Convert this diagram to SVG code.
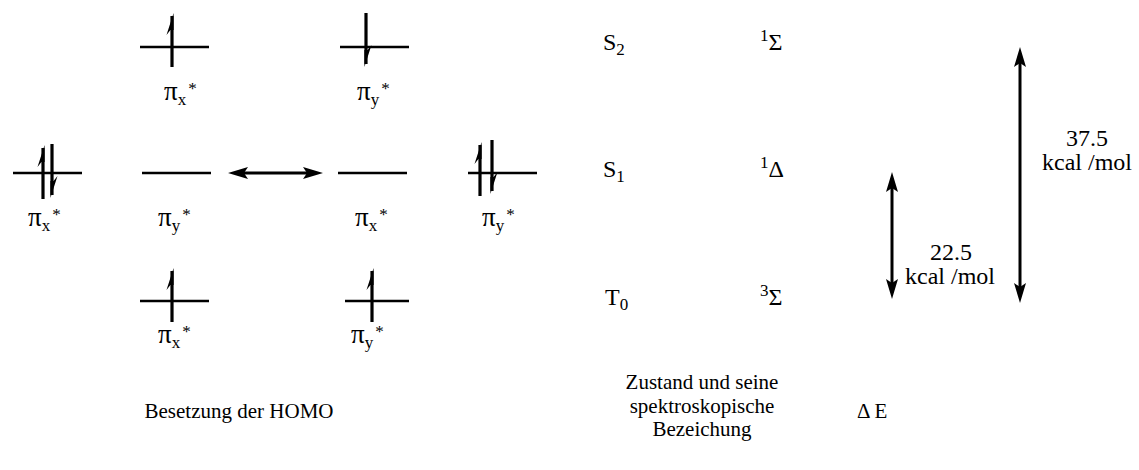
<svg xmlns="http://www.w3.org/2000/svg" width="1139" height="470" viewBox="0 0 1139 470" font-family="'Liberation Serif', 'DejaVu Serif', serif">
<style>
text{font-family:"Liberation Serif","DejaVu Serif",serif;fill:#000}
.t{font-size:24px}
.cap{font-size:21px}
.pi{font-size:27px}
.sub{font-size:17px}
.sup{font-size:17px}
.lvl{stroke:#000;stroke-width:2.5;fill:none}
.arr{stroke:#000;stroke-width:3;fill:none}
.spin line{stroke:#000;stroke-width:3.2}
.spin polygon{fill:#000}
</style>
<defs>
<marker id="ah" viewBox="0 0 20 12" refX="10" refY="6" markerWidth="20" markerHeight="12" markerUnits="userSpaceOnUse" orient="auto-start-reverse">
<path d="M0,0 L20,6 L0,12 L4,6 z" fill="#000"/>
</marker>
<g id="up" class="spin"><line x1="0" y1="3" x2="0" y2="54"/><polygon points="1.6,0 -5.5,22 -1.6,17 1.6,17"/></g>
<g id="down" class="spin"><line x1="0" y1="-54" x2="0" y2="-3"/><polygon points="-1.6,0 5.5,-22 1.6,-17 -1.6,-17"/></g>
</defs>

<g id="orb-top-left">
<line class="lvl" x1="140" y1="47" x2="209" y2="47"/>
<use href="#up" x="172" y="13"/>
<text x="164" y="100" class="pi">π<tspan class="sub" dy="5">x</tspan><tspan class="sup" dx="2" dy="-11">*</tspan></text>
</g>
<g id="orb-top-right">
<line class="lvl" x1="340" y1="47" x2="409" y2="47"/>
<use href="#down" x="366" y="67"/>
<text x="357" y="100" class="pi">π<tspan class="sub" dy="5">y</tspan><tspan class="sup" dx="2" dy="-11">*</tspan></text>
</g>
<g id="orb-mid-1">
<line class="lvl" x1="13" y1="173" x2="82" y2="173"/>
<use href="#up" x="43" y="145"/>
<use href="#down" x="52" y="198"/>
<text x="28" y="226" class="pi">π<tspan class="sub" dy="5">x</tspan><tspan class="sup" dx="2" dy="-11">*</tspan></text>
</g>
<g id="orb-mid-2">
<line class="lvl" x1="142" y1="173" x2="211" y2="173"/>
<text x="158" y="226" class="pi">π<tspan class="sub" dy="5">y</tspan><tspan class="sup" dx="2" dy="-11">*</tspan></text>
</g>
<g id="orb-mid-3">
<line class="lvl" x1="338" y1="173" x2="407" y2="173"/>
<text x="355" y="226" class="pi">π<tspan class="sub" dy="5">x</tspan><tspan class="sup" dx="2" dy="-11">*</tspan></text>
</g>
<g id="orb-mid-4">
<line class="lvl" x1="468" y1="173" x2="537" y2="173"/>
<use href="#up" x="480" y="142"/>
<use href="#down" x="492" y="194"/>
<text x="482" y="226" class="pi">π<tspan class="sub" dy="5">y</tspan><tspan class="sup" dx="2" dy="-11">*</tspan></text>
</g>
<g id="orb-bot-left">
<line class="lvl" x1="140" y1="301" x2="209" y2="301"/>
<use href="#up" x="172" y="268"/>
<text x="158" y="343" class="pi">π<tspan class="sub" dy="5">x</tspan><tspan class="sup" dx="2" dy="-11">*</tspan></text>
</g>
<g id="orb-bot-right">
<line class="lvl" x1="345" y1="301" x2="409" y2="301"/>
<use href="#up" x="372" y="268"/>
<text x="351" y="343" class="pi">π<tspan class="sub" dy="5">y</tspan><tspan class="sup" dx="2" dy="-11">*</tspan></text>
</g>

<g id="state-S2">
<text x="603" y="50" class="t">S<tspan class="sub" dy="5">2</tspan></text>
<text x="760" y="50" class="t"><tspan class="sup" dy="-9">1</tspan><tspan dy="9">Σ</tspan></text>
</g>
<g id="state-S1">
<text x="603" y="177" class="t">S<tspan class="sub" dy="5">1</tspan></text>
<text x="760" y="177" class="t"><tspan class="sup" dy="-9">1</tspan><tspan dy="9">Δ</tspan></text>
</g>
<g id="state-T0">
<text x="605" y="305" class="t">T<tspan class="sub" dy="5">0</tspan></text>
<text x="760" y="305" class="t"><tspan class="sup" dy="-9">3</tspan><tspan dy="9">Σ</tspan></text>
</g>

<g id="label-small">
<text x="951" y="260" class="t" text-anchor="middle">22.5</text>
<text x="950" y="284" class="t" text-anchor="middle">kcal /mol</text>
</g>
<g id="label-big">
<text x="1087" y="146" class="t" text-anchor="middle">37.5</text>
<text x="1087" y="170" class="t" text-anchor="middle">kcal /mol</text>
</g>

<g id="captions">
<text x="239" y="418" class="cap" text-anchor="middle">Besetzung der HOMO</text>
<text x="702" y="389" class="cap" text-anchor="middle">Zustand und seine</text>
<text x="702" y="412.5" class="cap" text-anchor="middle">spektroskopische</text>
<text x="702" y="436" class="cap" text-anchor="middle">Bezeichung</text>
<text x="857" y="418" class="cap">Δ E</text>
</g>

<g id="connectors">
<line class="arr" x1="238" y1="173" x2="313" y2="173" marker-start="url(#ah)" marker-end="url(#ah)"/>
<line class="arr" x1="892" y1="182" x2="892" y2="289" marker-start="url(#ah)" marker-end="url(#ah)"/>
<line class="arr" x1="1020" y1="57" x2="1020" y2="293" marker-start="url(#ah)" marker-end="url(#ah)"/>
</g>
</svg>
